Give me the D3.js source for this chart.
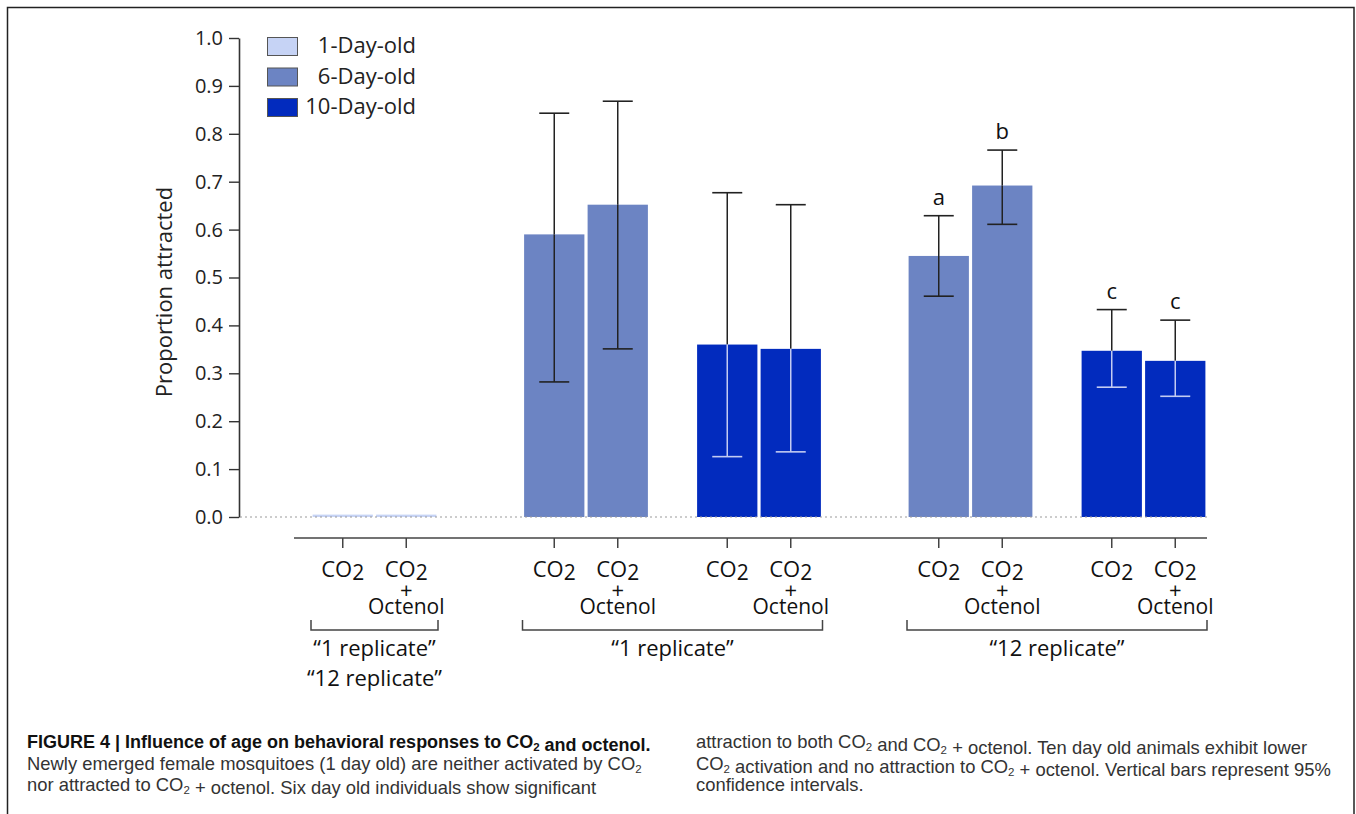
<!DOCTYPE html>
<html>
<head>
<meta charset="utf-8">
<script src="https://cdn.jsdelivr.net/npm/d3@7"></script>
<style>
  body { margin: 0; background: #fff; }
  svg { display: block; }
</style>
</head>
<body>
<svg id="chart"></svg>
<script>
// ---- data ----
const ages = ["1-Day-old", "6-Day-old", "10-Day-old"];
const treatments = ["CO2", "CO2 + Octenol"];
const groupAge = ["1-Day-old", "6-Day-old", "10-Day-old", "6-Day-old", "10-Day-old"];
const groupSet = ["both", "1 replicate", "1 replicate", "12 replicate", "12 replicate"];
const setNames = ["both", "1 replicate", "12 replicate"];
const setLabels = [["\u201c1 replicate\u201d", "\u201c12 replicate\u201d"], ["\u201c1 replicate\u201d"], ["\u201c12 replicate\u201d"]];

const meanCO2   = [0.005, 0.590, 0.360, 0.545, 0.347];
const meanOct   = [0.005, 0.652, 0.351, 0.692, 0.326];
const ciLowCO2  = [null, 0.282, 0.126, 0.461, 0.271];
const ciHighCO2 = [null, 0.843, 0.677, 0.629, 0.433];
const ciLowOct  = [null, 0.351, 0.136, 0.611, 0.252];
const ciHighOct = [null, 0.868, 0.652, 0.766, 0.411];
const letterCO2 = ["", "", "", "a", "c"];
const letterOct = ["", "", "", "b", "c"];

const yTicks = [0, 0.1, 0.2, 0.3, 0.4, 0.5, 0.6, 0.7, 0.8, 0.9, 1.0];

const captionLeft = [
  {bold: true, text: "FIGURE 4 | Influence of age on behavioral responses to CO{2} and octenol."},
  {bold: false, text: "Newly emerged female mosquitoes (1 day old) are neither activated by CO{2}"},
  {bold: false, text: "nor attracted to CO{2} + octenol. Six day old individuals show significant"}
];
const captionRight = [
  "attraction to both CO{2} and CO{2} + octenol. Ten day old animals exhibit lower",
  "CO{2} activation and no attraction to CO{2} + octenol. Vertical bars represent 95%",
  "confidence intervals."
];

// ---- layout ----
const W = 1356, H = 814;
const font = "'Open Sans', 'Noto Sans', sans-serif";
const capFont = "'Liberation Sans Narrow', 'Liberation Sans', Arial, sans-serif";
const color = d3.scaleOrdinal(ages, ["#c6d3f5", "#6c84c3", "#022bbe"]);

const svg = d3.select("#chart").attr("width", W).attr("height", H);

// frame
svg.append("rect")
  .attr("x", 7.5).attr("y", 7.5)
  .attr("width", 1346.5).attr("height", H + 20)
  .attr("fill", "none").attr("stroke", "#222").attr("stroke-width", 1.5);

// build bars
const bars = [];
const gapIn = 46 / 63.5, gapOut = 84.5 / 63.5;
let cursor = 0;
groupAge.forEach((age, i) => {
  if (i > 0) cursor += groupSet[i] === groupSet[i - 1] ? gapIn : gapOut;
  const means = [meanCO2[i], meanOct[i]];
  const lows = [ciLowCO2[i], ciLowOct[i]];
  const highs = [ciHighCO2[i], ciHighOct[i]];
  const letters = [letterCO2[i], letterOct[i]];
  treatments.forEach((t, j) => {
    bars.push({group: i, age, set: groupSet[i], treatment: t, slot: cursor + j,
      mean: means[j], lo: lows[j], hi: highs[j], letter: letters[j]});
  });
  cursor += 2;
});

const x = d3.scaleLinear().domain([0, cursor]).range([311, 1207]);
const y = d3.scaleLinear().domain([0, 1]).range([517, 38]);
const inset = 1.6;
const cx = d => (x(d.slot) + x(d.slot + 1)) / 2;

// y axis
const yAxis = svg.append("g")
  .attr("transform", "translate(239,0)")
  .call(d3.axisLeft(y).tickValues(yTicks).tickFormat(d3.format(".1f")).tickSize(10).tickSizeOuter(0).tickPadding(6));
yAxis.select(".domain").attr("stroke", "#333").attr("stroke-width", 1.6);
yAxis.selectAll(".tick line").attr("stroke", "#333").attr("stroke-width", 1.4);
yAxis.selectAll(".tick text").attr("font-family", font).attr("font-size", 20).attr("fill", "#222");

svg.append("text")
  .attr("transform", "translate(172,292) rotate(-90)")
  .attr("text-anchor", "middle")
  .attr("font-family", font).attr("font-size", 22).attr("fill", "#222")
  .text("Proportion attracted");

// bars
svg.append("g").selectAll("rect")
  .data(bars).join("rect")
  .attr("x", d => x(d.slot) + inset)
  .attr("width", d => x(d.slot + 1) - x(d.slot) - 2 * inset)
  .attr("y", d => y(d.mean))
  .attr("height", d => y(0) - y(d.mean))
  .attr("fill", d => color(d.age));

// zero reference line
svg.append("line")
  .attr("x1", 240).attr("x2", x(cursor))
  .attr("y1", y(0)).attr("y2", y(0))
  .attr("stroke", "#9a9a9a").attr("stroke-width", 1.2)
  .attr("stroke-dasharray", "2,3");

// error bars (the part inside the dark bars is drawn light)
const ebG = svg.append("g");
const capW = 15;
bars.filter(d => d.lo != null).forEach(d => {
  const c = cx(d);
  const dark = "#222";
  const inBar = d.age === "10-Day-old" ? "#c3cbf2" : dark;
  const g = ebG.append("g");
  g.append("line").attr("x1", c).attr("x2", c)
    .attr("y1", y(d.hi)).attr("y2", y(Math.max(d.mean, d.lo)))
    .attr("stroke", dark).attr("stroke-width", 1.5);
  g.append("line").attr("x1", c).attr("x2", c)
    .attr("y1", y(d.mean)).attr("y2", y(d.lo))
    .attr("stroke", inBar).attr("stroke-width", 1.5);
  g.append("line").attr("x1", c - capW).attr("x2", c + capW)
    .attr("y1", y(d.hi)).attr("y2", y(d.hi))
    .attr("stroke", dark).attr("stroke-width", 1.6);
  g.append("line").attr("x1", c - capW).attr("x2", c + capW)
    .attr("y1", y(d.lo)).attr("y2", y(d.lo))
    .attr("stroke", d.lo < d.mean ? inBar : dark).attr("stroke-width", 1.6);
});

// significance letters
svg.append("g").selectAll("text")
  .data(bars.filter(d => d.letter)).join("text")
  .attr("x", cx).attr("y", d => y(d.hi) - 11)
  .attr("text-anchor", "middle")
  .attr("font-family", font).attr("font-size", 22).attr("fill", "#111")
  .text(d => d.letter);

// legend
const legend = svg.append("g");
ages.forEach((a, i) => {
  const ly = 37 + i * 30.5;
  legend.append("rect")
    .attr("x", 267.5).attr("y", ly + 0.5).attr("width", 30).attr("height", 18)
    .attr("fill", color(a)).attr("stroke", "#555").attr("stroke-width", 1);
  legend.append("text")
    .attr("x", 416).attr("y", ly + 16)
    .attr("text-anchor", "end")
    .attr("font-family", font).attr("font-size", 22).attr("fill", "#222")
    .text(a);
});

// category axis
const axY = 538;
svg.append("line")
  .attr("x1", 294).attr("x2", x(cursor))
  .attr("y1", axY).attr("y2", axY)
  .attr("stroke", "#444").attr("stroke-width", 1.5);

const ticks = svg.append("g").selectAll("g")
  .data(bars).join("g")
  .attr("transform", d => `translate(${cx(d)},0)`);
ticks.append("line")
  .attr("y1", axY).attr("y2", axY + 10)
  .attr("stroke", "#444").attr("stroke-width", 1.5);

// each tick label is one text element; extra lines are tspans
ticks.each(function(d) {
  const t = d3.select(this).append("text")
    .attr("y", 577).attr("text-anchor", "middle")
    .attr("font-family", font).attr("font-size", 22).attr("fill", "#111");
  t.append("tspan").attr("x", 0).text("CO");
  t.append("tspan").attr("dy", 3).attr("font-size", 21).text("2");
  if (d.treatment !== "CO2") {
    t.append("tspan").attr("x", 0).attr("dy", 18).text("+");
    t.append("tspan").attr("x", 0).attr("dy", 16).attr("font-size", 21).text("Octenol");
  }
});

// replicate brackets
setNames.forEach((s, k) => {
  const members = bars.filter(d => d.set === s);
  const x0 = x(d3.min(members, d => d.slot));
  const x1 = x(d3.max(members, d => d.slot) + 1);
  svg.append("path")
    .attr("d", `M${x0},620V630H${x1}V620`)
    .attr("fill", "none").attr("stroke", "#444").attr("stroke-width", 1.5);
  const t = svg.append("text")
    .attr("y", 656).attr("text-anchor", "middle")
    .attr("font-family", font).attr("font-size", 22).attr("fill", "#111");
  setLabels[k].forEach((lab, li) => {
    t.append("tspan").attr("x", (x0 + x1) / 2).attr("dy", li ? 30 : 0).text(lab);
  });
});

// caption
function captionLine(xx, yy, str, bold) {
  const t = svg.append("text")
    .attr("x", xx).attr("y", yy)
    .attr("font-family", capFont).attr("font-size", bold ? 18 : 18.4)
    .attr("font-weight", bold ? "bold" : "normal")
    .attr("fill", bold ? "#111" : "#333");
  str.split(/(\{2\})/).forEach(part => {
    if (part === "{2}") {
      t.append("tspan").attr("dy", 3).attr("font-size", 11.5).text("2");
      t.append("tspan").attr("dy", -3).text("");
    } else if (part) {
      t.append("tspan").text(part);
    }
  });
}
captionLeft.forEach((l, i) => captionLine(27, 748 + i * 21.5, l.text, l.bold));
captionRight.forEach((l, i) => captionLine(696, 748 + i * 21.5, l, false));
</script>
</body>
</html>
